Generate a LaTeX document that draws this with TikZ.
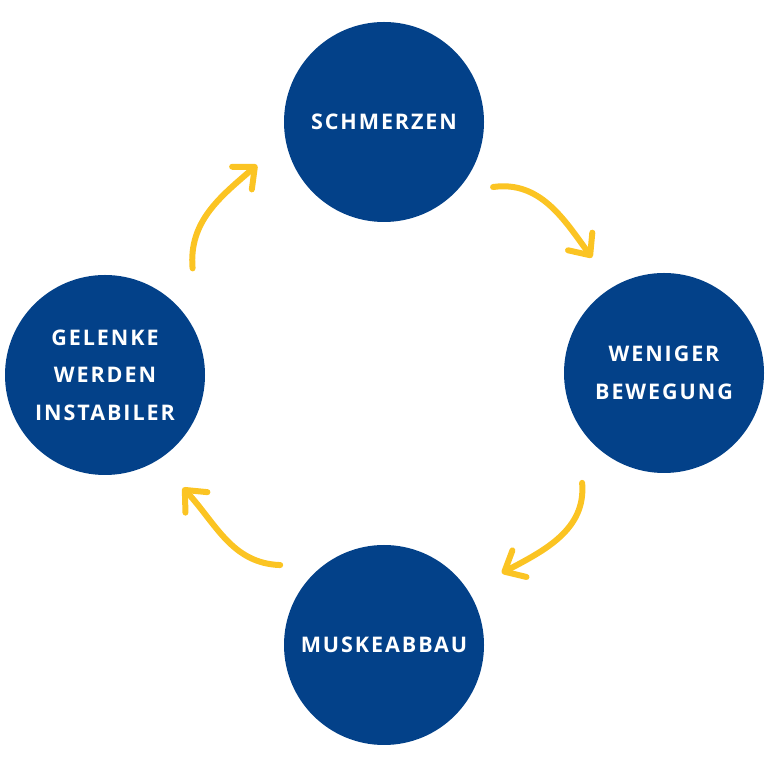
\documentclass[tikz,border=0pt]{standalone}
\usepackage{fontspec}
\newfontfamily\lbl[LetterSpace=9]{Open Sans}
\usetikzlibrary{arrows.meta}
\definecolor{cblue}{RGB}{3,65,137}
\definecolor{cyell}{RGB}{251,196,35}
\begin{document}
\begin{tikzpicture}[x=1pt,y=1pt,
  circ/.style={circle,fill=cblue,minimum size=200pt,inner sep=0pt,text=white,
    font=\lbl\bfseries\fontsize{21.5}{37.5}\selectfont,align=center},
  arr/.style={draw=cyell,line width=6pt,line cap=round,line join=round,
    -{Straight Barb[length=17pt,width=30pt,line cap=round,line join=round]}}]
\useasboundingbox (0,0) rectangle (768,768);
\node[circ] (top) at (384,646) {SCHMERZEN};
\node[circ] (right) at (664,395) {WENIGER\\BEWEGUNG};
\node[circ] (bot) at (384,123) {MUSKEABBAU};
\node[circ] (left) at (105,393) {GELENKE\\WERDEN\\INSTABILER};
\coordinate (a1s) at ([shift={(-30.8:127pt)}]top.center);
\coordinate (a1e) at ([shift={(122:136pt)}]right.center);
\coordinate (a2s) at ([shift={(233.3:137pt)}]right.center);
\coordinate (a2e) at ([shift={(31.4:138pt)}]bot.center);
\coordinate (a3s) at ([shift={(142.4:131pt)}]bot.center);
\coordinate (a3e) at ([shift={(-55.4:137pt)}]left.center);
\coordinate (a4s) at ([shift={(50.6:138pt)}]left.center);
\coordinate (a4e) at ([shift={(198.7:134pt)}]top.center);
\draw[arr] (a1s) to[out=8,in=126] (a1e);
\draw[arr] (a2s) to[out=-85,in=28] (a2e);
\draw[arr] (a3s) to[out=178,in=-47] (a3e);
\draw[arr] (a4s) to[out=95,in=221] (a4e);
\end{tikzpicture}
\end{document}
